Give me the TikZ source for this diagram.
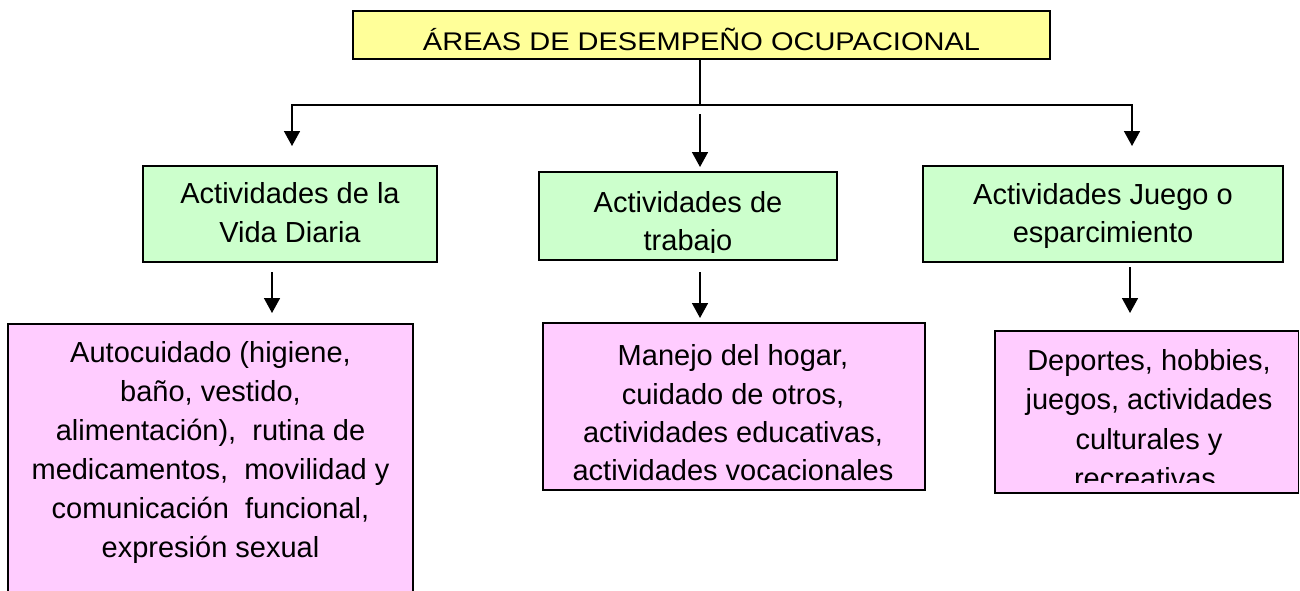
\documentclass[tikz,border=0pt]{standalone}
\usepackage{fontspec}
\usepackage{graphicx}
\setmainfont{Liberation Sans}
\usetikzlibrary{arrows.meta}
\definecolor{titlefill}{HTML}{FFFF99}
\definecolor{areafill}{HTML}{CCFFCC}
\definecolor{itemfill}{HTML}{FFCCFF}
\begin{document}
\begin{tikzpicture}[x=1pt,y=-1pt,
  box/.style={draw=black, line width=1.8pt, inner sep=0pt, rectangle},
  txt/.style={font=\fontsize{29}{38.5}\selectfont, align=center, inner sep=0pt},
  conn/.style={line width=1.6pt},
  arr/.style={conn, -{Triangle[width=16pt,length=15pt]}}]
\useasboundingbox (0,0) rectangle (1300,590);
\clip (0,0) rectangle (1300,590);

% title
\node[box, fill=titlefill, minimum width=697pt, minimum height=48pt] (title) at (701.5,35) {};
\node[anchor=base, inner sep=0pt, font=\fontsize{29}{35}\selectfont] (titletext) at (701.5,50) {\scalebox{1}[0.88]{ÁREAS DE DESEMPEÑO OCUPACIONAL}};

% areas
\node[box, fill=areafill, minimum width=294pt, minimum height=96pt] (avd) at (290,214) {};
\node[txt] (avdt) at (290,215.5) {\strut Actividades de la\\Vida Diaria\strut};

\node[box, fill=areafill, minimum width=298pt, minimum height=88pt] (trab) at (688,216) {};
\begin{scope}
\clip (539,172) rectangle (837,252.5);
\node[txt] (trabt) at (688,223.8) {\strut Actividades de\\trabajo\strut};
\end{scope}

\node[box, fill=areafill, minimum width=360pt, minimum height=96pt] (juego) at (1103,214) {};
\node[txt] (juegot) at (1103,215.6) {\strut Actividades Juego o\\esparcimiento\strut};

% items
\node[box, fill=itemfill, minimum width=405pt, minimum height=276pt] (auto) at (210.5,462) {};
\node[txt, font=\fontsize{29}{39}\selectfont] (autot) at (210.5,452) {\strut Autocuidado (higiene,\\baño, vestido,\\alimentación),\ \ rutina de\\medicamentos,\ \ movilidad y\\comunicación\ \ funcional,\\expresión sexual\strut};

\node[box, fill=itemfill, minimum width=382pt, minimum height=167pt] (hogar) at (734,406.5) {};
\node[txt, font=\fontsize{29}{38.3}\selectfont] (hogart) at (733,415.5) {\strut Manejo del hogar,\\cuidado de otros,\\actividades educativas,\\actividades vocacionales\strut};

\node[box, fill=itemfill, minimum width=303.5pt, minimum height=162pt] (dep) at (1146.75,412) {};
\begin{scope}
\clip (995,331) rectangle (1298,482);
\node[txt, font=\fontsize{29}{39.5}\selectfont] (dept) at (1149,421.6) {\strut Deportes, hobbies,\\juegos, actividades\\culturales y\\recreativas.\strut};
\end{scope}

% connectors
\coordinate (hub) at (700,105);
\coordinate (tl) at (292,146);
\coordinate (tr) at (1132,146);
\draw[conn] (title.south -| hub) -- (hub);
\draw[arr] (hub) -| (tl);
\draw[arr] (hub) -| (tr);
\coordinate (ms) at (700,114);
\coordinate (me) at (700,167);
\draw[arr] (ms) -- (me);

\coordinate (l1) at (272,272);
\coordinate (l2) at (272,313);
\draw[arr] (l1) -- (l2);
\coordinate (m1) at (700,272);
\coordinate (m2) at (700,318);
\draw[arr] (m1) -- (m2);
\coordinate (r1) at (1130,267);
\coordinate (r2) at (1130,313);
\draw[arr] (r1) -- (r2);
\end{tikzpicture}
\end{document}
